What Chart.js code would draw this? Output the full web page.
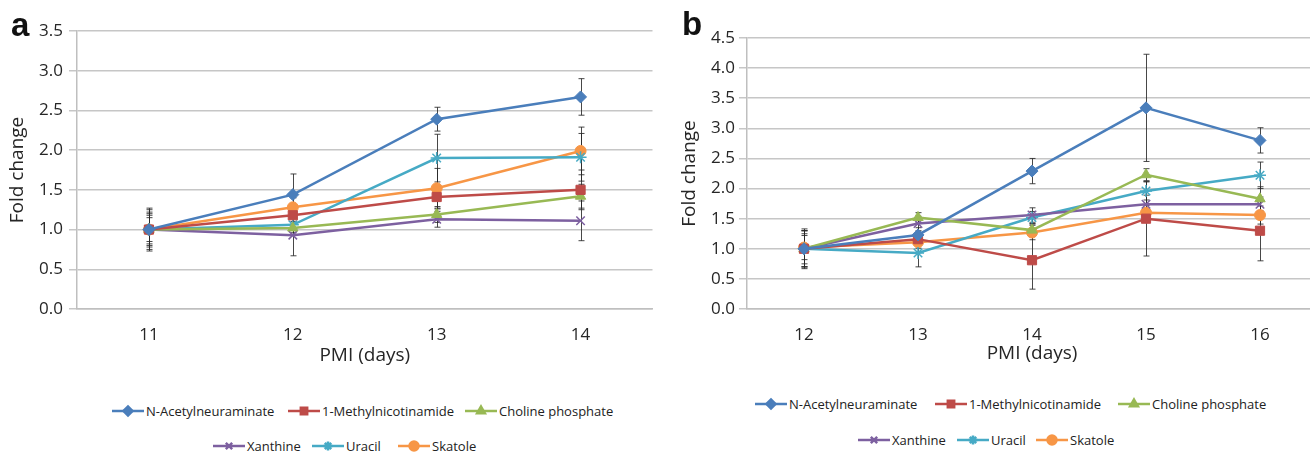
<!DOCTYPE html>
<html><head><meta charset="utf-8">
<script src="https://cdn.jsdelivr.net/npm/chart.js@4.4.1/dist/chart.umd.min.js"></script>
<style>
html,body{margin:0;padding:0;background:#fff;overflow:hidden;width:1310px;height:453px;position:relative;}
#wa{position:absolute;left:0;top:0;width:660px;height:370px;}
#wb{position:absolute;left:672px;top:0;width:653px;height:370px;}
.panel{position:absolute;font-family:"Liberation Sans",Arial,sans-serif;font-weight:bold;font-size:33px;color:#111;line-height:1;}
.item{position:absolute;display:flex;align-items:center;font-family:"Open Sans",sans-serif;font-size:13px;color:#222;white-space:nowrap;height:16px;}
.item canvas{margin-right:2px;}
</style></head>
<body>
<div id="wa"><canvas id="ca"></canvas></div>
<div id="wb"><canvas id="cb"></canvas></div>
<div class="panel" style="left:11px;top:8px;">a</div>
<div class="panel" style="left:682px;top:7px;">b</div>
<div id="legends"></div>
<script>
// ---------- data ----------
const seriesNames = ['N-Acetylneuraminate','1-Methylnicotinamide','Choline phosphate','Xanthine','Uracil','Skatole'];

// Panel a
const categoriesA = ['11','12','13','14'];
const acetylA  = [1.00, 1.44, 2.39, 2.67];
const methylA  = [1.00, 1.18, 1.41, 1.50];
const cholineA = [1.00, 1.02, 1.19, 1.42];
const xanthA   = [1.00, 0.93, 1.13, 1.11];
const uracilA  = [1.00, 1.06, 1.90, 1.91];
const skatoleA = [1.00, 1.28, 1.52, 1.99];
const acetylErrA  = [0.27, 0.26, 0.15, 0.23];
const methylErrA  = [0.20, 0.10, 0.15, 0.25];
const cholineErrA = [0.15, 0.08, 0.10, 0.15];
const xanthErrA   = [0.25, 0.26, 0.10, 0.25];
const uracilErrA  = [0.18, 0.10, 0.30, 0.30];
const skatoleErrA = [0.22, 0.12, 0.25, 0.30];
const yTicksA = {min:0, max:3.5, step:0.5};

// Panel b
const categoriesB = ['12','13','14','15','16'];
const acetylB  = [1.00, 1.23, 2.29, 3.34, 2.80];
const methylB  = [1.00, 1.16, 0.81, 1.50, 1.30];
const cholineB = [1.00, 1.52, 1.31, 2.23, 1.83];
const xanthB   = [1.00, 1.42, 1.56, 1.74, 1.74];
const uracilB  = [1.00, 0.93, 1.52, 1.96, 2.22];
const skatoleB = [1.02, 1.11, 1.27, 1.60, 1.56];
const acetylErrB  = [0.30, 0.12, 0.21, 0.89, 0.21];
const methylErrB  = [0.30, 0.10, 0.48, 0.62, 0.50];
const cholineErrB = [0.25, 0.08, 0.10, 0.10, 0.20];
const xanthErrB   = [0.30, 0.12, 0.12, 0.15, 0.12];
const uracilErrB  = [0.33, 0.23, 0.10, 0.15, 0.22];
const skatoleErrB = [0.20, 0.10, 0.12, 0.12, 0.15];
const yTicksB = {min:0, max:4.5, step:0.5};

// ---------- styles ----------
const colors = ['#4A7EBB','#BE4B48','#98B954','#7D60A0','#46AAC5','#F79646'];
const markers = ['rectRot','rect','triangle','crossRot','star','circle'];
const radii = [6, 6.5, 6, 6, 6, 5.5];

function buildDatasets(vals, errs){
  return vals.map((v,i)=>({
    label: seriesNames[i],
    data: v,
    errors: errs[i],
    borderColor: colors[i],
    backgroundColor: colors[i],
    pointBackgroundColor: colors[i],
    pointBorderColor: colors[i],
    pointStyle: markers[i],
    pointRadius: radii[i],
    pointBorderWidth: (markers[i]==='crossRot'||markers[i]==='star') ? 1.5 : 1,
    borderWidth: 2.5,
    tension: 0,
    clip: false
  }));
}

const errorBarPlugin = {
  id:'errorBars',
  beforeDatasetsDraw(chart){
    const ctx = chart.ctx, ys = chart.scales.y;
    ctx.save();
    ctx.strokeStyle = 'rgba(40,40,40,0.85)';
    ctx.lineWidth = 1;
    chart.data.datasets.forEach((ds,i)=>{
      const meta = chart.getDatasetMeta(i);
      meta.data.forEach((pt,j)=>{
        const e = ds.errors[j]; if(!e) return;
        const v = ds.data[j];
        const yt = ys.getPixelForValue(v+e), yb = ys.getPixelForValue(v-e);
        const x = Math.round(pt.x)+0.5;
        ctx.beginPath();
        ctx.moveTo(x, yt); ctx.lineTo(x, yb);
        ctx.moveTo(x-3, yt); ctx.lineTo(x+3, yt);
        ctx.moveTo(x-3, yb); ctx.lineTo(x+3, yb);
        ctx.stroke();
      });
    });
    ctx.restore();
  }
};

const tickFont = {family:'"Open Sans", sans-serif', size:17};
const titleFont = {family:'"Open Sans", sans-serif', size:19};
const textColor = '#262626';

function makeChart(id, cats, datasets, yt, opts){
  return new Chart(document.getElementById(id), {
    type:'line',
    data:{labels:cats, datasets},
    plugins:[errorBarPlugin],
    options:{
      responsive:true, maintainAspectRatio:false, animation:false,
      layout:{padding:{top:opts.top, right:opts.right, left:0, bottom:0}},
      plugins:{legend:{display:false}, tooltip:{enabled:false}},
      scales:{
        x:{
          type:'category', offset:true,
          grid:{display:true, drawOnChartArea:false, drawTicks:false, color:'#bfbfbf'},
          border:{display:true, color:'#bfbfbf', width:1.5},
          ticks:{font:tickFont, color:textColor, padding:16, maxRotation:0},
          title:{display:true, text:'PMI (days)', font:titleFont, color:textColor, padding:{top:0,bottom:opts.xTitlePad}},
          afterFit(s){ s.height = 61; }
        },
        y:{
          min:yt.min, max:yt.max,
          grid:{color:'#c6c6c6', lineWidth:1.5, tickLength:8, drawTicks:true},
          border:{display:true, color:'#bfbfbf', width:1.5},
          ticks:{stepSize:yt.step, font:tickFont, color:textColor, padding:opts.tickPad, callback:v=>Number(v).toFixed(1)},
          title:{display:true, text:'Fold change', font:titleFont, color:textColor, padding:{top:6,bottom:0}},
          afterFit(s){ s.width = opts.yWidth; }
        }
      }
    }
  });
}

makeChart('ca', categoriesA,
  buildDatasets([acetylA,methylA,cholineA,xanthA,uracilA,skatoleA],
                [acetylErrA,methylErrA,cholineErrA,xanthErrA,uracilErrA,skatoleErrA]),
  yTicksA, {top:31, right:5, yWidth:77, tickPad:6, xTitlePad:3});
makeChart('cb', categoriesB,
  buildDatasets([acetylB,methylB,cholineB,xanthB,uracilB,skatoleB],
                [acetylErrB,methylErrB,cholineErrB,xanthErrB,uracilErrB,skatoleErrB]),
  yTicksB, {top:38, right:8, yWidth:75, tickPad:4, xTitlePad:5});

// ---------- legends ----------
const legendPos = [
  // panel a
  [[112,411],[288,411],[465,411],[213,446],[312,446],[398,446]],
  // panel b
  [[755,404],[935,404],[1118,404],[858,440],[957,440],[1036,440]]
];
const legHost = document.getElementById('legends');
legendPos.forEach(pos=>{
  pos.forEach((p,i)=>{
    const it = document.createElement('div');
    it.className='item';
    it.style.left = p[0]+'px';
    it.style.top = (p[1]-8)+'px';
    const c = document.createElement('canvas');
    c.width = 32; c.height = 14;
    const g = c.getContext('2d');
    g.strokeStyle = colors[i]; g.lineWidth = 2.5;
    g.beginPath(); g.moveTo(0,7); g.lineTo(32,7); g.stroke();
    g.fillStyle = colors[i];
    Chart.helpers.drawPoint(g, {pointStyle:markers[i], radius:4.5, borderWidth:1.5, rotation:0}, 16, 7);
    if(markers[i]!=='crossRot' && markers[i]!=='star') g.fill();
    it.appendChild(c);
    const t = document.createElement('span');
    t.textContent = seriesNames[i];
    it.appendChild(t);
    legHost.appendChild(it);
  });
});
</script>
</body></html>
